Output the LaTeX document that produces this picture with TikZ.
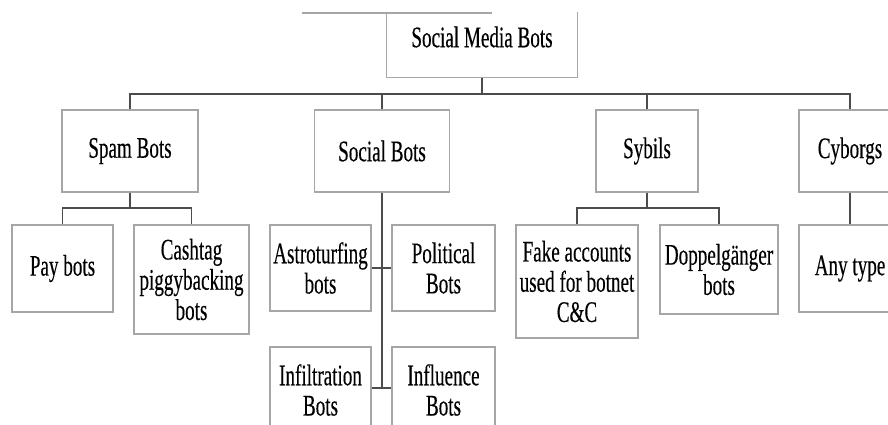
\documentclass[tikz,border=0pt]{standalone}
\usepackage{fontspec}
\setmainfont[FakeStretch=0.64,FakeBold=0.3]{Liberation Serif}
\begin{document}
\begin{tikzpicture}[x=0.02cm,y=-0.02cm]
\tikzstyle{boxi}=[rectangle,draw=black!35,line width=0.7pt,align=center,inner sep=0pt,font=\fontsize{17}{17.2}\selectfont]
\tikzstyle{lbl}=[inner sep=0pt,font=\fontsize{17}{17.2}\selectfont]
\tikzstyle{link}=[draw=black!70,line width=0.8pt]
\useasboundingbox (0,0) rectangle (888,425);
\clip (0,0) rectangle (888,425);
\coordinate (topl) at (302,13);
\coordinate (topr) at (492,13);
\coordinate (busa) at (0,94);
\coordinate (busb) at (0,208);
\coordinate (busc) at (0,388);
\node [boxi,draw=none,minimum width=3.8cm,minimum height=1.28cm] (root) at (482,45) {};
\node [lbl] (rootlbl) at (482,37) {Social Media Bots};
\node [boxi,minimum width=2.72cm,minimum height=1.64cm] (spam) at (130,151) {Spam Bots};
\node [boxi,minimum width=2.70cm,minimum height=1.64cm] (social) at (382,151) {Social Bots};
\node [boxi,minimum width=2.04cm,minimum height=1.64cm] (sybils) at (647,151) {Sybils};
\node [boxi,minimum width=2.04cm,minimum height=1.64cm] (cyborgs) at (850,151) {Cyborgs};
\node [boxi,minimum width=2.02cm,minimum height=1.74cm] (pay) at (62.5,268.5) {Pay bots};
\node [boxi,minimum width=2.30cm,minimum height=2.18cm] (cashtag) at (191.5,279.5) {Cashtag\\piggybacking\\bots};
\node [boxi,minimum width=2.02cm,minimum height=1.72cm] (astro) at (320.5,268) {Astroturfing\\bots};
\node [boxi,minimum width=2.06cm,minimum height=1.72cm] (political) at (443.5,268) {Political\\Bots};
\node [boxi,minimum width=2.02cm,minimum height=1.72cm] (infiltration) at (320.5,390) {Infiltration\\Bots};
\node [boxi,minimum width=2.06cm,minimum height=1.72cm] (influence) at (443.5,390) {Influence\\Bots};
\node [boxi,minimum width=2.44cm,minimum height=2.26cm] (fake) at (577,281.5) {Fake accounts\\used for botnet\\C\&C};
\node [boxi,minimum width=2.36cm,minimum height=1.78cm] (doppel) at (719,269.5) {Doppelgänger\\bots};
\node [boxi,minimum width=2.04cm,minimum height=1.74cm] (anytype) at (850,268.5) {Any type};
\draw [black!35,line width=0.7pt] (topl) -- (topr);
\draw [black!35,line width=0.7pt] (root.north west) |- (root.south east) -- (root.north east);
\draw [link] (root.south) -- (root.south |- busa);
\draw [link] (spam.north) |- (cyborgs.north |- busa) -- (cyborgs.north);
\draw [link] (social.north) -- (social.north |- busa);
\draw [link] (sybils.north) -- (sybils.north |- busa);
\draw [link] (spam.south) -- (spam.south |- busb);
\draw [link] (pay.north) |- (cashtag.north |- busb) -- (cashtag.north);
\draw [link] (sybils.south) -- (sybils.south |- busb);
\draw [link] (fake.north) |- (doppel.north |- busb) -- (doppel.north);
\draw [link] (cyborgs.south) -- (anytype.north);
\draw [link] (social.south) -- (social.south |- busc);
\draw [link] (astro.east) -- (political.west);
\draw [link] (infiltration.east |- busc) -- (influence.west |- busc);
\end{tikzpicture}
\end{document}
